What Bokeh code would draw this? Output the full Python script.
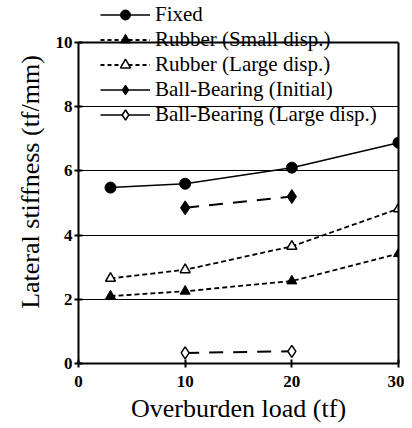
from bokeh.plotting import figure
from bokeh.models import Range1d, Legend, LegendItem, FixedTicker, LinearAxis, Span
from bokeh.embed import file_html
from bokeh.resources import INLINE

# Data
load_all = [3, 10, 20, 30]
fixed = [5.48, 5.6, 6.1, 6.88]
rubber_small = [2.1, 2.25, 2.57, 3.42]
rubber_large = [2.65, 2.92, 3.65, 4.82]
load_bb = [10, 20]
bb_initial = [4.85, 5.2]
bb_large = [0.33, 0.38]

x_ticks = [0, 10, 20, 30]
y_ticks = [0, 2, 4, 6, 8, 10]
y_max = 10

FONT = "Liberation Serif"

# frame extends above y=10 so the legend (which overlaps the top edge) is not clipped
p = figure(width=404, height=428, output_backend="svg", toolbar_location=None,
           x_range=Range1d(0, 30), y_range=Range1d(0, y_max + 42 / 32.1),
           min_border_left=78, min_border_right=6, min_border_top=0, min_border_bottom=65)
p.background_fill_color = "white"
p.border_fill_color = "white"
p.outline_line_color = None

p.xgrid.visible = False
p.ygrid.ticker = FixedTicker(ticks=[2, 4, 6, 8])
p.ygrid.grid_line_color = "black"
p.ygrid.grid_line_width = 1
p.ygrid.grid_line_alpha = 1

p.yaxis[0].bounds = (0, y_max)

for ax in (p.xaxis[0], p.yaxis[0]):
    ax.axis_line_width = 2
    ax.axis_line_color = "black"
    ax.major_tick_in = 4
    ax.major_tick_out = 4
    ax.major_tick_line_width = 2
    ax.minor_tick_line_color = None
    ax.major_label_text_font = FONT
    ax.major_label_text_font_style = "bold"
    ax.major_label_text_font_size = "17px"
    ax.major_label_text_color = "black"
    ax.axis_label_text_font = FONT
    ax.axis_label_text_font_style = "normal"
    ax.axis_label_text_font_size = "26px"
    ax.axis_label_text_color = "black"

p.xaxis.ticker = FixedTicker(ticks=x_ticks)
p.yaxis.ticker = FixedTicker(ticks=y_ticks)
p.xaxis.axis_label = "Overburden load (tf)"
p.yaxis.axis_label = "Lateral stiffness (tf/mm)"
p.xaxis.major_label_standoff = 8
p.yaxis.major_label_standoff = 2
p.xaxis.axis_label_standoff = 4
p.yaxis.axis_label_standoff = 8

# right edge of the plot box
right_ax = LinearAxis(ticker=FixedTicker(ticks=[]), bounds=(0, y_max),
                      axis_line_width=2, axis_line_color="black",
                      major_tick_line_color=None, minor_tick_line_color=None,
                      major_label_text_font_size="0px")
p.add_layout(right_ax, "right")
# top edge of the plot box
p.add_layout(Span(location=y_max, dimension="width", line_color="black", line_width=2))

l1 = p.line(load_all, fixed, line_color="black", line_width=1.5)
m1 = p.scatter(load_all, fixed, marker="circle", size=11, fill_color="black", line_color="black")

l2 = p.line(load_all, rubber_small, line_color="black", line_width=1.8, line_dash="5 3")
m2 = p.scatter(load_all, rubber_small, marker="triangle", size=10, fill_color="black", line_color="black")

l3 = p.line(load_all, rubber_large, line_color="black", line_width=1.8, line_dash="5 3")
m3 = p.scatter(load_all, rubber_large, marker="triangle", size=10, fill_color="white", line_color="black", line_width=1.5)

l4 = p.line(load_bb, bb_initial, line_color="black", line_width=2, line_dash="14 10")
m4 = p.scatter(load_bb, bb_initial, marker="diamond", size=14, fill_color="black", line_color="black")

l5 = p.line(load_bb, bb_large, line_color="black", line_width=2, line_dash="14 10")
m5 = p.scatter(load_bb, bb_large, marker="diamond", size=12, fill_color="white", line_color="black", line_width=1.5)

# legend line samples
lg = []
lg.append(p.line([None], [None], line_color="black", line_width=1.5))
lg.append(p.line([None], [None], line_color="black", line_width=1.8, line_dash="4 3"))
lg.append(p.line([None], [None], line_color="black", line_width=1.8, line_dash="4 3"))
lg.append(p.line([None], [None], line_color="black", line_width=1.5))
lg.append(p.line([None], [None], line_color="black", line_width=1.5))

items = [
    LegendItem(label="Fixed", renderers=[lg[0], m1]),
    LegendItem(label="Rubber (Small disp.)", renderers=[lg[1], m2]),
    LegendItem(label="Rubber (Large disp.)", renderers=[lg[2], m3]),
    LegendItem(label="Ball-Bearing (Initial)", renderers=[lg[3], m4]),
    LegendItem(label="Ball-Bearing (Large disp.)", renderers=[lg[4], m5]),
]
legend = Legend(items=items, location=(22, 236), orientation="vertical",
                background_fill_alpha=0, border_line_color=None,
                padding=0, margin=0, spacing=0,
                glyph_width=50, glyph_height=25, label_height=25,
                label_standoff=5,
                label_text_font=FONT, label_text_font_size="21px",
                label_text_color="black")
p.add_layout(legend, "center")

open("out.html", "w").write(file_html(p, INLINE))
